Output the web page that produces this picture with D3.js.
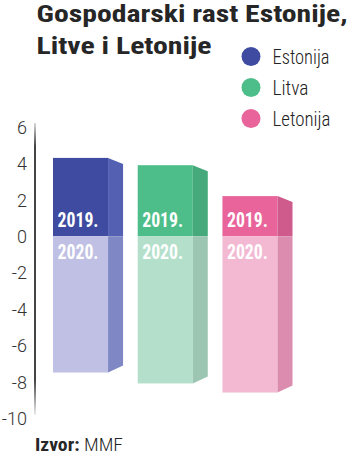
<!DOCTYPE html>
<html>
<head>
<meta charset="utf-8">
<script src="https://cdn.jsdelivr.net/npm/d3@7"></script>
<style>
  body { margin: 0; background: #fff; }
  svg { display: block; }
  text { font-family: "Liberation Sans Narrow", "Roboto Condensed", "DejaVu Sans Condensed", "Roboto", sans-serif; }
</style>
</head>
<body>
<svg id="chart"></svg>
<script>
const width = 350;
const height = 457;

// podaci (MMF)
const countries = ["Estonija", "Litva", "Letonija"];
const growth2019 = [4.3, 3.9, 2.2];
const growth2020 = [-7.5, -8.1, -8.6];
const yTicks = [6, 4, 2, 0, -2, -4, -6, -8, -10];
const yearLabels = ["2019.", "2020."];

// boje: prednja strana / bočna strana
const topFront = ["#3e4ba0", "#4dbe89", "#e8649a"];
const topSide = ["#5461b3", "#45a97b", "#cf5a8c"];
const botFront = ["#bfc0e3", "#b4e0cb", "#f3b9d3"];
const botSide = ["#7f88c5", "#9dc6b2", "#dc8cae"];

const svg = d3.select("#chart")
    .attr("width", width)
    .attr("height", height);

const y = d3.scaleLinear()
    .domain([-10, 6])
    .range([418, 127]);

const x = d3.scaleBand()
    .domain(countries)
    .range([53, 277.5])
    .paddingInner(0.35)
    .paddingOuter(0);

const side = 15;     // širina bočne strane
const slantTop = 6;
const slantBot = 7;

// Naslov
svg.append("text")
    .attr("x", 36.5)
    .attr("y", 21.5)
    .attr("textLength", 311)
    .attr("lengthAdjust", "spacingAndGlyphs")
    .style("font-size", "24px")
    .style("font-weight", "bold")
    .style("fill", "#262626")
    .text("Gospodarski rast Estonije,");

svg.append("text")
    .attr("x", 36.5)
    .attr("y", 54)
    .attr("textLength", 175)
    .attr("lengthAdjust", "spacingAndGlyphs")
    .style("font-size", "24px")
    .style("font-weight", "bold")
    .style("fill", "#262626")
    .text("Litve i Letonije");

// Legenda
const legendWidths = [57, 36, 58];
const legend = svg.append("g");
countries.forEach((c, i) => {
    legend.append("circle")
        .attr("cx", 251)
        .attr("cy", 56.5 + i * 31)
        .attr("r", 9.5)
        .attr("fill", topFront[i]);
    legend.append("text")
        .attr("x", 272.5)
        .attr("y", 64 + i * 31)
        .attr("textLength", legendWidths[i])
        .attr("lengthAdjust", "spacingAndGlyphs")
        .style("font-size", "21px")
        .style("font-weight", 300)
        .style("fill", "#222")
        .text(c);
});

// Os Y (linija s blijeđenjem na krajevima)
const defs = svg.append("defs");
const grad = defs.append("linearGradient")
    .attr("id", "axisFade")
    .attr("x1", 0).attr("x2", 0).attr("y1", 0).attr("y2", 1);
grad.append("stop").attr("offset", "0%").attr("stop-color", "#444").attr("stop-opacity", 0.2);
grad.append("stop").attr("offset", "8%").attr("stop-color", "#444").attr("stop-opacity", 1);
grad.append("stop").attr("offset", "88%").attr("stop-color", "#444").attr("stop-opacity", 1);
grad.append("stop").attr("offset", "100%").attr("stop-color", "#444").attr("stop-opacity", 0.1);

svg.append("rect")
    .attr("x", 34)
    .attr("y", 123)
    .attr("width", 2)
    .attr("height", 292)
    .attr("fill", "url(#axisFade)");

const yAxis = svg.append("g")
    .attr("transform", "translate(27,0)")
    .call(d3.axisLeft(y).tickValues(yTicks).tickSize(0).tickPadding(0).tickFormat(d3.format("d")));
yAxis.select(".domain").remove();
yAxis.selectAll("text")
    .attr("dy", "0.36em")
    .style("font-size", "18px")
    .style("font-weight", 300)
    .style("font-family", "Roboto, 'Open Sans', sans-serif")
    .style("fill", "#333")
    .text(d => String(d).replace("−", "-"));

// Stupci
const y0 = y(0);
countries.forEach((c, i) => {
    const x0 = x(c);
    const x1 = x0 + x.bandwidth();
    const x2 = x1 + side;
    const yTop = y(growth2019[i]);
    const yBot = y(growth2020[i]);

    // 2019 - prednja
    svg.append("rect")
        .attr("x", x0).attr("y", yTop)
        .attr("width", x.bandwidth()).attr("height", y0 - yTop)
        .attr("fill", topFront[i]);
    // 2019 - bočna
    svg.append("path")
        .attr("d", `M${x1},${yTop}L${x2},${yTop + slantTop}L${x2},${y0}L${x1},${y0}Z`)
        .attr("fill", topSide[i]);

    // 2020 - prednja
    svg.append("rect")
        .attr("x", x0).attr("y", y0)
        .attr("width", x.bandwidth()).attr("height", yBot - y0)
        .attr("fill", botFront[i]);
    // 2020 - bočna
    svg.append("path")
        .attr("d", `M${x1},${y0}L${x2},${y0}L${x2},${yBot - slantBot}L${x1},${yBot}Z`)
        .attr("fill", botSide[i]);

    // oznake godina
    svg.append("text")
        .attr("x", x0 + 4.5)
        .attr("y", y0 - 9)
        .attr("textLength", 41)
        .attr("lengthAdjust", "spacingAndGlyphs")
        .style("font-size", "20px")
        .style("font-weight", "bold")
        .style("fill", "#fff")
        .text(yearLabels[0]);

    svg.append("text")
        .attr("x", x0 + 4.5)
        .attr("y", y0 + 23)
        .attr("textLength", 41)
        .attr("lengthAdjust", "spacingAndGlyphs")
        .style("font-size", "20px")
        .style("font-weight", "bold")
        .style("fill", "#fff")
        .text(yearLabels[1]);
});

// Izvor
const src = svg.append("text")
    .attr("x", 35)
    .attr("y", 451)
    .attr("textLength", 88)
    .attr("lengthAdjust", "spacingAndGlyphs")
    .style("font-size", "18px")
    .style("fill", "#262626");
src.append("tspan").style("font-weight", "bold").text("Izvor:");
src.append("tspan").style("font-weight", 300).text(" MMF");
</script>
</body>
</html>
